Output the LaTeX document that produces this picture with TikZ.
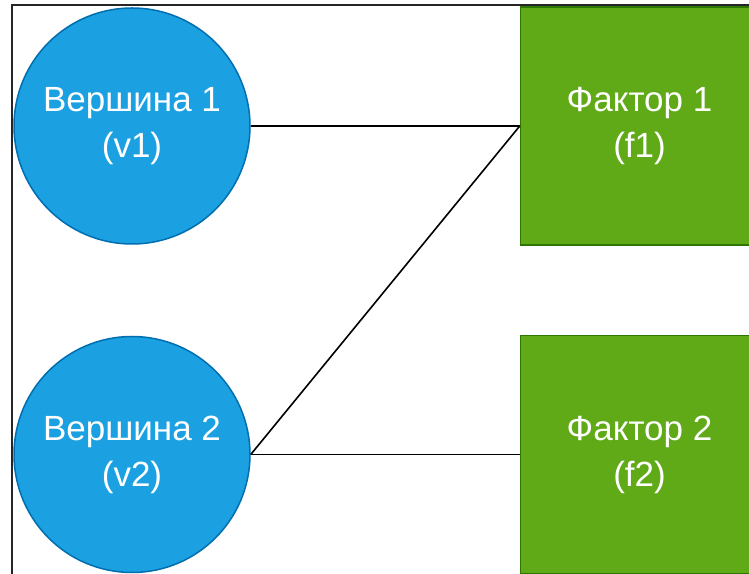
\documentclass[tikz,border=0pt]{standalone}
\usepackage{fontspec}
\setmainfont{Liberation Sans}
\usetikzlibrary{positioning}

\definecolor{vfill}{HTML}{1BA1E2}
\definecolor{vline}{HTML}{006EAF}
\definecolor{ffill}{HTML}{60A917}
\definecolor{fline}{HTML}{2D7600}

\begin{document}
\begin{tikzpicture}[node distance=91pt and 269pt,
  vert/.style={circle,draw=vline,fill=vfill,line width=1.5pt,minimum size=236pt,inner sep=0pt,
    align=center,text=white,font=\fontsize{35}{46}\selectfont},
  fact/.style={rectangle,draw=fline,fill=ffill,line width=1.5pt,minimum size=238pt,inner sep=0pt,
    align=center,text=white,font=\fontsize{35}{46}\selectfont},
  link/.style={line width=1.6pt,black}]
\clip (0pt,0pt) rectangle (749pt,573pt);
% outer frame
\draw[line width=1.5pt,black!85] (12pt,-10pt) rectangle (800pt,568pt);
\node[vert] (v1) at (132pt,447pt) {Вершина 1\\(v1)};
\node[vert,below=of v1] (v2) {Вершина 2\\(v2)};
\node[fact,right=of v1] (f1) {Фактор 1\\(f1)};
\node[fact,below=of f1,yshift=2pt] (f2) {Фактор 2\\(f2)};
\draw[link] (v1.east) -- (f1.west);
\draw[link] (v2.east) -- (f1.west);
\draw[link] (v2.east) -- (f2.west);
\end{tikzpicture}
\end{document}
